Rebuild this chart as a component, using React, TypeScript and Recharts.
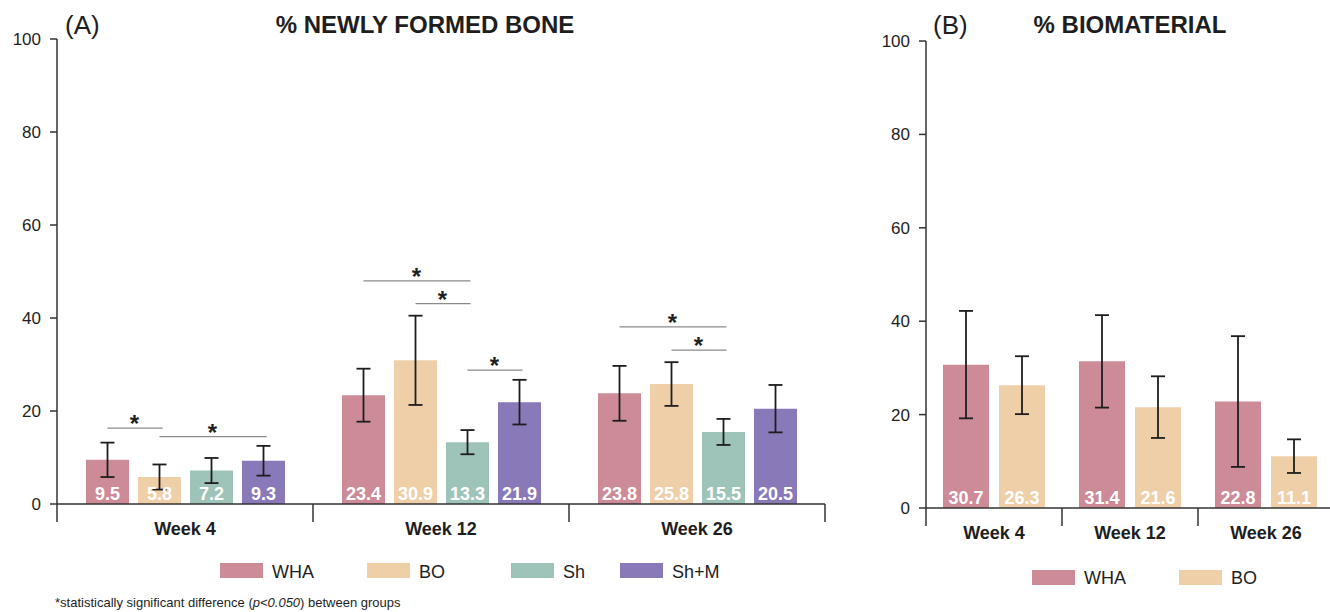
import React from "react";
import { Bar, BarChart, ErrorBar, LabelList, XAxis, YAxis } from "recharts";

const WEEKS = ["Week 4", "Week 12", "Week 26"];
const Y_TICKS = [0, 20, 40, 60, 80, 100];

// (A) % newly formed bone
const GROUPS_A = ["WHA", "BO", "Sh", "Sh+M"];
const BONE_WHA = [9.5, 23.4, 23.8];
const BONE_BO = [5.8, 30.9, 25.8];
const BONE_SH = [7.2, 13.3, 15.5];
const BONE_SHM = [9.3, 21.9, 20.5];
const BONE_WHA_SD = [3.7, 5.7, 5.9];
const BONE_BO_SD = [2.7, 9.6, 4.7];
const BONE_SH_SD = [2.7, 2.6, 2.8];
const BONE_SHM_SD = [3.2, 4.8, 5.1];

// significance brackets in (A): week, from group, to group, height (%)
const SIG_WEEK = [0, 0, 1, 1, 1, 2, 2];
const SIG_FROM = [0, 1, 0, 1, 2, 0, 1];
const SIG_TO = [1, 3, 2, 2, 3, 2, 2];
const SIG_Y = [16.3, 14.5, 48, 43.1, 28.8, 38.1, 33.1];

// (B) % biomaterial
const GROUPS_B = ["WHA", "BO"];
const BIO_WHA = [30.7, 31.4, 22.8];
const BIO_BO = [26.3, 21.6, 11.1];
const BIO_WHA_SD = [11.5, 9.9, 14.0];
const BIO_BO_SD = [6.2, 6.6, 3.6];

const COLORS: Record<string, string> = {
  WHA: "#CD8B98",
  BO: "#EECFA8",
  Sh: "#9EC4B9",
  "Sh+M": "#8A79B9",
};

const FONT = "'Liberation Sans', Arial, Helvetica, sans-serif";
const AXIS = "#333333";
const INK = "#1e1e1e";

const boneData = WEEKS.map((week, i) => ({
  week,
  WHA: BONE_WHA[i],
  WHA_sd: BONE_WHA_SD[i],
  BO: BONE_BO[i],
  BO_sd: BONE_BO_SD[i],
  Sh: BONE_SH[i],
  Sh_sd: BONE_SH_SD[i],
  ShM: BONE_SHM[i],
  ShM_sd: BONE_SHM_SD[i],
}));

const bioData = WEEKS.map((week, i) => ({
  week,
  WHA: BIO_WHA[i],
  WHA_sd: BIO_WHA_SD[i],
  BO: BIO_BO[i],
  BO_sd: BIO_BO_SD[i],
}));

const keyOf = (g: string) => (g === "Sh+M" ? "ShM" : g);

// layout
const A_W = 840;
const A_YW = 57;
const A_RIGHT = 15;
const A_CAT = (A_W - A_YW - A_RIGHT) / WEEKS.length;
const A_BAR = 43;
const A_GAP = 9;

const B_W = 490;
const B_YW = 66;
const B_RIGHT = 16;
const B_CAT = (B_W - B_YW - B_RIGHT) / WEEKS.length;
const B_BAR = 46;
const B_GAP = 10;

const BarValue = (props: any) => {
  const { x, y, width, height, value } = props;
  return (
    <text
      x={Number(x) + Number(width) / 2}
      y={Number(y) + Number(height) - 4.5}
      textAnchor="middle"
      fill="#ffffff"
      fontSize={18}
      fontWeight={700}
      fontFamily={FONT}
    >
      {Number(value).toFixed(1)}
    </text>
  );
};

// brackets hang off the "from" bar: x from its centre, y from its own value scale
const makeSigLabel = (group: number) => (props: any) => {
  const { x, y, width, height, value, index } = props;
  const base = Number(y) + Number(height);
  const perUnit = Number(height) / Number(value);
  const cx = Number(x) + Number(width) / 2;
  return (
    <g>
      {SIG_Y.map((v, k) => {
        if (SIG_WEEK[k] !== index || SIG_FROM[k] !== group) return null;
        const x2 = cx + (SIG_TO[k] - SIG_FROM[k]) * (A_BAR + A_GAP);
        const py = base - v * perUnit;
        return (
          <g key={k}>
            <line x1={cx} x2={x2 + 3} y1={py} y2={py} stroke="#8a8a8a" strokeWidth={1.3} />
            <text
              x={(cx + x2) / 2 + 1}
              y={py + 4}
              textAnchor="middle"
              fontSize={24}
              fontWeight={700}
              fill={INK}
              fontFamily={FONT}
            >
              *
            </text>
          </g>
        );
      })}
    </g>
  );
};

const makeWeekTick = (cat: number, count: number) => (props: any) => {
  const { x, y, payload, index } = props;
  return (
    <g>
      <line x1={x - cat / 2} x2={x - cat / 2} y1={y} y2={y + 18} stroke={AXIS} strokeWidth={1.5} />
      {index === count - 1 && (
        <line x1={x + cat / 2} x2={x + cat / 2} y1={y} y2={y + 18} stroke={AXIS} strokeWidth={1.5} />
      )}
      <text x={x} y={y + 31} textAnchor="middle" fontSize={18} fontWeight={700} fill={INK} fontFamily={FONT}>
        {payload.value}
      </text>
    </g>
  );
};

function BoneChart() {
  return (
    <BarChart
      width={A_W}
      height={612}
      data={boneData}
      margin={{ top: 39, right: A_RIGHT, bottom: 68, left: 0 }}
      barSize={A_BAR}
      barGap={A_GAP}
    >
      <XAxis
        dataKey="week"
        interval={0}
        height={40}
        tickLine={false}
        tickSize={0}
        tickMargin={0}
        axisLine={{ stroke: AXIS, strokeWidth: 1.5 }}
        tick={makeWeekTick(A_CAT, WEEKS.length)}
      />
      <YAxis
        domain={[0, 100]}
        ticks={Y_TICKS}
        interval={0}
        width={A_YW}
        tickSize={7}
        tickMargin={9}
        axisLine={{ stroke: AXIS, strokeWidth: 1.5 }}
        tickLine={{ stroke: AXIS, strokeWidth: 1.5 }}
        tick={{ fontSize: 17, fill: INK, fontFamily: FONT }}
      />
      {GROUPS_A.map((g, j) => (
        <Bar key={g} dataKey={keyOf(g)} fill={COLORS[g]} isAnimationActive={false}>
          <ErrorBar dataKey={`${keyOf(g)}_sd`} width={7} stroke={INK} strokeWidth={1.8} />
          <LabelList dataKey={keyOf(g)} content={BarValue} />
          <LabelList dataKey={keyOf(g)} content={makeSigLabel(j)} />
        </Bar>
      ))}
    </BarChart>
  );
}

function BioChart() {
  return (
    <BarChart
      width={B_W}
      height={612}
      data={bioData}
      margin={{ top: 41, right: B_RIGHT, bottom: 64, left: 0 }}
      barSize={B_BAR}
      barGap={B_GAP}
    >
      <XAxis
        dataKey="week"
        interval={0}
        height={40}
        tickLine={false}
        tickSize={0}
        tickMargin={0}
        axisLine={{ stroke: AXIS, strokeWidth: 1.5 }}
        tick={makeWeekTick(B_CAT, WEEKS.length)}
      />
      <YAxis
        domain={[0, 100]}
        ticks={Y_TICKS}
        interval={0}
        width={B_YW}
        tickSize={7}
        tickMargin={9}
        axisLine={{ stroke: AXIS, strokeWidth: 1.5 }}
        tickLine={{ stroke: AXIS, strokeWidth: 1.5 }}
        tick={{ fontSize: 17, fill: INK, fontFamily: FONT }}
      />
      {GROUPS_B.map((g) => (
        <Bar key={g} dataKey={g} fill={COLORS[g]} isAnimationActive={false}>
          <ErrorBar dataKey={`${g}_sd`} width={7} stroke={INK} strokeWidth={1.8} />
          <LabelList dataKey={g} content={BarValue} />
        </Bar>
      ))}
    </BarChart>
  );
}

const LEGEND_A_X = [220, 367, 511, 620];
const LEGEND_B_X = [1032, 1179];

export default function App() {
  return (
    <div
      style={{
        position: "absolute",
        left: 0,
        top: 0,
        width: 1330,
        height: 612,
        overflow: "hidden",
        background: "#ffffff",
      }}
    >
      <div style={{ position: "absolute", left: 0, top: 0 }}>
        <BoneChart />
      </div>
      <div style={{ position: "absolute", left: 860, top: 0 }}>
        <BioChart />
      </div>
      <svg
        width={1330}
        height={612}
        style={{ position: "absolute", left: 0, top: 0, pointerEvents: "none" }}
        fontFamily={FONT}
      >
        <text x={65} y={34} fontSize={26} fill={INK}>(A)</text>
        <text x={425} y={33} fontSize={24} fontWeight={700} textAnchor="middle" fill={INK}>
          % NEWLY FORMED BONE
        </text>
        <text x={933} y={34} fontSize={26} fill={INK}>(B)</text>
        <text x={1130} y={33} fontSize={24} fontWeight={700} textAnchor="middle" fill={INK}>
          % BIOMATERIAL
        </text>

        {GROUPS_A.map((g, i) => (
          <g key={g}>
            <rect x={LEGEND_A_X[i]} y={563} width={43} height={15} fill={COLORS[g]} />
            <text x={LEGEND_A_X[i] + 52} y={577.5} fontSize={18} fill={INK}>{g}</text>
          </g>
        ))}
        {GROUPS_B.map((g, i) => (
          <g key={g}>
            <rect x={LEGEND_B_X[i]} y={570} width={43} height={15} fill={COLORS[g]} />
            <text x={LEGEND_B_X[i] + 52} y={584} fontSize={18} fill={INK}>{g}</text>
          </g>
        ))}

        <text x={55} y={607} fontSize={13} fill={INK}>
          *statistically significant difference (<tspan fontStyle="italic">p&lt;0.050</tspan>) between groups
        </text>
      </svg>
    </div>
  );
}
